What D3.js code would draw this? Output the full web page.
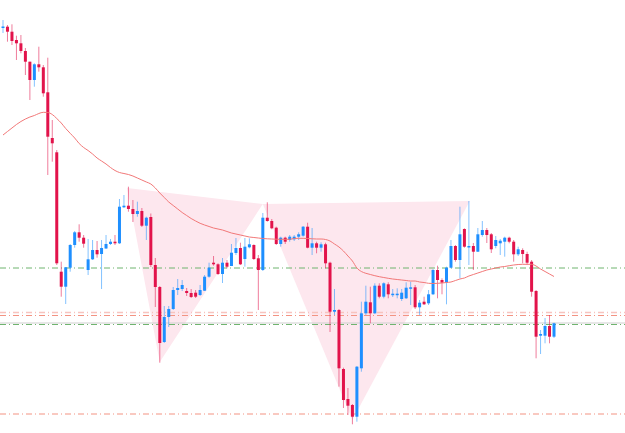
<!DOCTYPE html>
<html>
<head>
<meta charset="utf-8">
<script src="https://cdn.jsdelivr.net/npm/d3@7"></script>
<style>
  html, body { margin: 0; padding: 0; background: #fff; }
  svg { display: block; }
</style>
</head>
<body>
<div id="chart"></div>
<script>
// price in points, 0 at bottom of the window
let opens = [405.5,406.3,401.3,393,389.7,382,371.3,353,368.7,365.7,340.7,295,280.7,161.3,146.3,165.3,188,200.7,195.3,163,
  173.7,183,179,184.5,189,191.3,189.7,225.7,227.3,224,219,222,207.3,216,168,146,91,116,124,143,
  144,142,140,140.3,138,142.3,156.3,170.3,168.7,159,170.3,167,180,185,174,185.7,188,174.7,163,215.3,
  212,205.3,189,195.3,193,193.7,196.3,197.3,206.3,185.3,189.7,185.3,188.7,170.3,121.3,123,64,34,28,16.3,
  64.7,119.7,130.7,119.7,147.3,136.3,148.7,138,138,134,134.7,144.3,145.7,125.7,131.3,129.7,138.7,163,153,150.7,
  165.3,187,173,204,186,187,181.3,198,203,198.7,187,189.7,191.3,195.3,191.3,178.7,183,179,171.3,142,
  97.3,97.3,107,96.3];
let highs = [413,408,408.7,397.3,398,385,371.3,369.7,386.3,368,375.3,313,283,171.3,165.7,189,202,208.7,198,194,
  193,192,193,198,194,198,234,238,246.3,233,231.3,225,216.3,219.5,175,147,127,127,146,154,
  153,145,144,143,148,158,170.3,177,169.7,175,173,189,195,190.3,195,194.7,188.7,178,220,230.7,
  214,206.3,196.3,196.3,198,198,200.7,207,210.3,205,191.3,190.7,190.3,171.3,144,124,65.3,45,29,67,
  131.3,147.3,146.3,149.7,149.7,150.7,150.7,144,144.7,144,150.7,151.3,148,133,136.3,143,164,167.3,154.7,166.3,
  193,188,226.3,204.7,232,190,205,212,205,200,197,194,196.3,196.3,193,186.3,184.7,181.3,173,143,
  103,115,118,110.3];
let lows = [400,391.3,388,373,379.7,358,333,346.3,361.3,336.3,258,271.3,168,136.3,129,161.3,185.3,191.3,185.3,158,
  173,175.3,144,184,188,188,189,225,221.3,211,216.3,206,193,166,126,70.3,90,106,123,138,
  142,137,135,135,137,142,155.3,167.3,158,150,164.7,167,178,168,166.3,184.7,173,123,162,211.3,
  203.7,188,186.3,189,191.3,192,193,196.3,184.7,178,179.7,181.3,164.7,101,118,46.3,25,18,8.7,11.3,
  61.3,118,109.7,119,134.7,134.7,134.7,136,134.7,132,134,128,124,118,128,128,138,134.7,138.7,128.7,
  164.7,171.3,154.7,185.3,168,163,181,196.3,190,180,184.7,178,176.3,189.7,171.3,177,169.7,168,136.3,74.7,
  79,89.7,89.7,95];
let closes = [406.5,401.3,392,389.7,382,371.3,353,368.7,365.7,339.7,296.3,289.7,169.7,146.3,165.7,188,200.7,195.3,189.3,173.7,
  183,178.7,185,189,191.3,189.7,226.3,227.3,224,219,222,207.3,215.3,168,146,90,116,124,143,145,
  148,140,136,136.3,143,156.3,165.3,168.7,159,170.3,166.3,180.3,185,168.7,186.3,188.7,174,163,215.3,212,
  204.7,189,195.3,191.3,196.3,196.3,198.7,206.3,185.3,189.7,185.3,188.7,169.7,121.3,123,64.7,33,27.3,16.3,66.3,
  119.7,131.3,119.7,147.3,136.3,149.7,138.7,139.3,139.3,140.3,145.3,145.7,125.7,130.3,128.7,138.7,163,153,150.3,165.3,
  187,173,198.7,186.3,187,181.3,198.7,203,198,183.7,193,192.3,195.3,191.3,178.7,183.7,179,170.3,141.3,96.3,
  99,107,96.3,109.7];
// moving average, one value per candle
let maValues = [298,301.5,305,308.5,311.5,314,316,317.5,319.5,320.7,320.5,318.5,314.5,310,304.5,299.7,295,289.5,285.5,282.5,
  279,275,272,269,265.5,262.5,260.5,259.5,258.5,257,255,253,251,249,245,240,235.5,231,227.5,224,
  220.5,217.5,214.5,212,209.7,208,206.5,205,204,203,201.5,200,199,198,197,196,195.5,195,194.5,194.2,
  194,193.8,193.7,193.7,193.7,194.5,194.7,194.7,194.5,194.2,194,194,193.5,192,189,186,182,177,172,165,
  161.5,159.7,158.5,157.3,156.3,155.5,154.7,154,153.5,153,152.5,152,152,151,150.5,149.7,149.5,149.7,150,150.5,
  151,152.5,154,155,157,158.5,160,161.5,163,164,165,166,166.5,167.3,168,168.5,168.7,168.7,168.7,167,
  164,161.5,159,156.5];
// horizontal levels
let levelValues = [165, 120.5, 117.5, 108.5, 19];
let levelColors = ["#6fb46f", "#f7c4bf", "#f39382", "#6fb46f", "#f39382"];
let lastPrice = 110;
// pattern shapes, [candle index, price]
let leftShape = [[27.7, 245], [58.0, 229], [35.0, 71]];
let rightShape = [[58.0, 229], [104.2, 232], [78.0, 13]];

let width = 625, height = 433;
let upColor = "#1e8fff", downColor = "#e2134b";

let svg = d3.select("#chart").append("svg")
    .attr("width", width)
    .attr("height", height);

let x = d3.scaleLinear().domain([0, opens.length - 1]).range([3, 554]);
let y = d3.scaleLinear().domain([0, 433]).range([433, 0]);

let candles = opens.map((o, i) => ({i: i, o: o, h: highs[i], l: lows[i], c: closes[i]}));

// shaded pattern
svg.selectAll("polygon.shape")
    .data([leftShape, rightShape])
    .enter().append("polygon")
    .attr("class", "shape")
    .attr("points", d => d.map(p => x(p[0]) + "," + y(p[1])).join(" "))
    .attr("fill", "#fde7ee");

// last price line
svg.append("line")
    .attr("x1", 0).attr("x2", width)
    .attr("y1", y(lastPrice)).attr("y2", y(lastPrice))
    .attr("stroke", "#cfcfcf")
    .attr("stroke-width", 1);

svg.selectAll("line.level")
    .data(levelValues)
    .enter().append("line")
    .attr("class", "level")
    .attr("x1", 0).attr("x2", width)
    .attr("y1", d => y(d)).attr("y2", d => y(d))
    .attr("stroke", (d, i) => levelColors[i])
    .attr("stroke-width", (d, i) => i == 1 ? 1.6 : 1)
    .attr("stroke-dasharray", "6,3,1,3");

// wicks
svg.selectAll("line.wick")
    .data(candles)
    .enter().append("line")
    .attr("class", "wick")
    .attr("x1", d => x(d.i)).attr("x2", d => x(d.i))
    .attr("y1", d => y(d.h)).attr("y2", d => y(d.l))
    .attr("stroke", d => d.c >= d.o ? upColor : downColor)
    .attr("stroke-opacity", 0.55)
    .attr("stroke-width", 1);

// bodies
svg.selectAll("rect.body")
    .data(candles)
    .enter().append("rect")
    .attr("class", "body")
    .attr("x", d => x(d.i) - 1.5)
    .attr("width", 3)
    .attr("y", d => y(Math.max(d.o, d.c)))
    .attr("height", d => Math.max(1.5, Math.abs(y(d.o) - y(d.c))))
    .attr("fill", d => d.c >= d.o ? upColor : downColor);

// moving average
let maLine = d3.line()
    .x((d, i) => x(i))
    .y(d => y(d))
    .curve(d3.curveMonotoneX);

svg.append("path")
    .datum(maValues)
    .attr("d", maLine)
    .attr("fill", "none")
    .attr("stroke", "#f27878")
    .attr("stroke-width", 1);
</script>
</body>
</html>
